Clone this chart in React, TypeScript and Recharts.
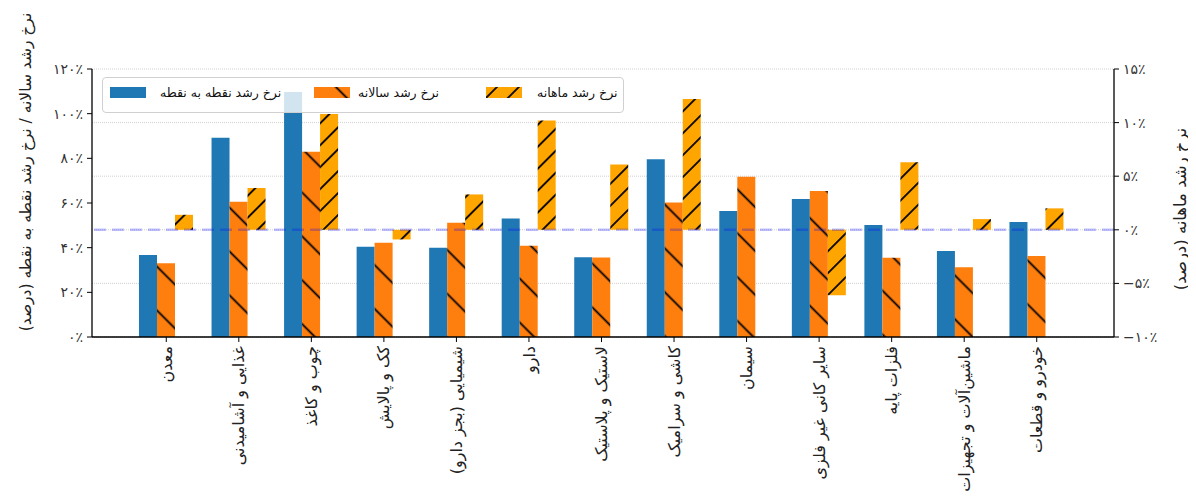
import React from 'react';
import { BarChart, Bar, XAxis, YAxis, CartesianGrid, ReferenceLine, Legend } from 'recharts';

// industry groups (x axis)
const categories = [
  'معدن',
  'غذایی و آشامیدنی',
  'چوب و کاغذ',
  'کک و پالایش',
  'شیمیایی (بجز دارو)',
  'دارو',
  'لاستیک و پلاستیک',
  'کاشی و سرامیک',
  'سیمان',
  'سایر کانی غیر فلزی',
  'فلزات پایه',
  'ماشین‌آلات و تجهیزات',
  'خودرو و قطعات',
];

// left axis (%)
const pointToPoint = [36.7, 89.2, 109.7, 40.4, 40.0, 53.1, 35.7, 79.6, 56.4, 61.8, 50.1, 38.5, 51.5];
const yearly = [33.0, 60.6, 83.0, 42.2, 51.2, 40.9, 35.6, 60.2, 71.8, 65.4, 35.5, 31.2, 36.3];
// right axis (%)
const monthly = [1.4, 3.9, 10.8, -0.9, 3.3, 10.2, 6.1, 12.2, 0, -6.1, 6.3, 1.0, 2.0];

const leftTicks = [0, 20, 40, 60, 80, 100, 120];
const rightTicks = [-10, -5, 0, 5, 10, 15];

const seriesNames = ['نرخ رشد نقطه به نقطه', 'نرخ رشد سالانه', 'نرخ رشد ماهانه'];
const leftTitle = 'نرخ رشد سالانه / نرخ رشد نقطه به نقطه (درصد)';
const rightTitle = 'نرخ رشد ماهانه (درصد)';

const BLUE = '#1f77b4';
const ORANGE = '#ff7f0e';
const YELLOW = '#ffa500';
const FONT = '"DejaVu Sans", sans-serif';

const data = categories.map((name, i) => ({
  name,
  p2p: pointToPoint[i],
  yoy: yearly[i],
  mom: monthly[i],
}));

const faDigits = '۰۱۲۳۴۵۶۷۸۹';
const toFa = (v: number) => {
  const s = String(Math.abs(v)).replace(/\d/g, (d) => faDigits[Number(d)]);
  return (v < 0 ? '−' : '') + s + '٪';
};

const CategoryTick = (props: any) => {
  const { x, y, payload } = props;
  return (
    <g transform={`translate(${x},${y + 2})`}>
      <text
        transform="rotate(-90)"
        textAnchor="end"
        dy="0.35em"
        fontSize={16}
        fill="#222"
        fontFamily={FONT}
      >
        {payload.value}
      </text>
    </g>
  );
};

const Hatch = ({ id, color, size, angle }: { id: string; color: string; size: number; angle: number }) => (
  <pattern id={id} patternUnits="userSpaceOnUse" width={size} height={size} patternTransform={`rotate(${angle})`}>
    <rect width={size} height={size} fill={color} />
    <line x1={size / 2} y1={0} x2={size / 2} y2={size} stroke="#000" strokeWidth={1.8} />
  </pattern>
);

const Swatch = ({ kind }: { kind: number }) => {
  const fills = [BLUE, 'url(#lgBack)', 'url(#lgFwd)'];
  return (
    <svg width={36} height={11} style={{ display: 'block' }}>
      <defs>
        <Hatch id="lgBack" color={ORANGE} size={31} angle={-45} />
        <Hatch id="lgFwd" color={YELLOW} size={15.5} angle={45} />
      </defs>
      <rect width={36} height={11} fill={fills[kind]} />
    </svg>
  );
};

const swatchLeft = [7, 211, 383];
const textLeft = [57, 255, 434];

const LegendBox = () => (
  <div
    style={{
      position: 'relative',
      width: 522,
      height: 36,
      boxSizing: 'border-box',
      background: 'rgba(255,255,255,0.8)',
      border: '1px solid #d0d0d0',
      borderRadius: 4,
      fontFamily: FONT,
      fontSize: 12.5,
      color: '#111',
    }}
  >
    {seriesNames.map((name, i) => (
      <React.Fragment key={name}>
        <div style={{ position: 'absolute', left: swatchLeft[i], top: 9 }}>
          <Swatch kind={i} />
        </div>
        <div style={{ position: 'absolute', left: textLeft[i], top: 6, lineHeight: '18px', whiteSpace: 'nowrap' }}>
          {name}
        </div>
      </React.Fragment>
    ))}
  </div>
);

const LeftTitle = () => (
  <text
    x={18}
    y={164}
    transform="rotate(-90, 18, 164)"
    textAnchor="middle"
    dominantBaseline="central"
    fontSize={15.5}
    fill="#222"
    fontFamily={FONT}
  >
    {leftTitle}
  </text>
);

const RightTitle = () => (
  <text
    x={1172}
    y={201}
    transform="rotate(-90, 1172, 201)"
    textAnchor="middle"
    dominantBaseline="central"
    fontSize={16.5}
    fill="#222"
    fontFamily={FONT}
  >
    {rightTitle}
  </text>
);

const App = () => {
  const tickStyle = { fontSize: 14, fill: '#333', fontFamily: FONT };
  return (
    <div style={{ width: 1188, height: 492 }}>
      <BarChart
        width={1188}
        height={492}
        data={data}
        margin={{ top: 61, right: 22, bottom: 13, left: 24 }}
        barGap={0}
        barSize={18}
      >
        <defs>
          <Hatch id="hatchBack" color={ORANGE} size={31} angle={-45} />
          <Hatch id="hatchFwd" color={YELLOW} size={15.5} angle={45} />
        </defs>
        <CartesianGrid yAxisId="right" vertical={false} stroke="#c4c4c4" strokeDasharray="1 1" strokeWidth={0.8} />
        <XAxis
          dataKey="name"
          height={150}
          interval={0}
          padding={{ left: 38, right: 41 }}
          tick={<CategoryTick />}
          tickSize={5}
          axisLine={{ stroke: '#000', strokeWidth: 1.3 }}
          tickLine={{ stroke: '#000' }}
        />
        <YAxis
          yAxisId="left"
          width={60}
          domain={[0, 120]}
          ticks={leftTicks}
          interval={0}
          tickFormatter={toFa}
          tick={tickStyle}
          tickSize={5}
          tickMargin={4}
          axisLine={{ stroke: '#000', strokeWidth: 1.3 }}
          tickLine={{ stroke: '#000' }}
          label={<LeftTitle />}
        />
        <YAxis
          yAxisId="right"
          orientation="right"
          width={60}
          domain={[-10, 15]}
          ticks={rightTicks}
          interval={0}
          tickFormatter={toFa}
          tick={tickStyle}
          tickSize={5}
          tickMargin={4}
          axisLine={{ stroke: '#000', strokeWidth: 1.3 }}
          tickLine={{ stroke: '#000' }}
          label={<RightTitle />}
        />
        <Bar yAxisId="left" dataKey="p2p" name={seriesNames[0]} fill={BLUE} isAnimationActive={false} />
        <Bar yAxisId="left" dataKey="yoy" name={seriesNames[1]} fill="url(#hatchBack)" isAnimationActive={false} />
        <Bar yAxisId="right" dataKey="mom" name={seriesNames[2]} fill="url(#hatchFwd)" isAnimationActive={false} />
        <ReferenceLine
          yAxisId="right"
          y={0}
          stroke="rgba(0,0,255,0.25)"
          strokeWidth={2.5}
          strokeDasharray="12 6"
        />
        <Legend
          layout="horizontal"
          verticalAlign="middle"
          align="center"
          content={<LegendBox />}
          wrapperStyle={{ left: 94, top: 69, width: 522, height: 36 }}
        />
      </BarChart>
    </div>
  );
};

export default App;
